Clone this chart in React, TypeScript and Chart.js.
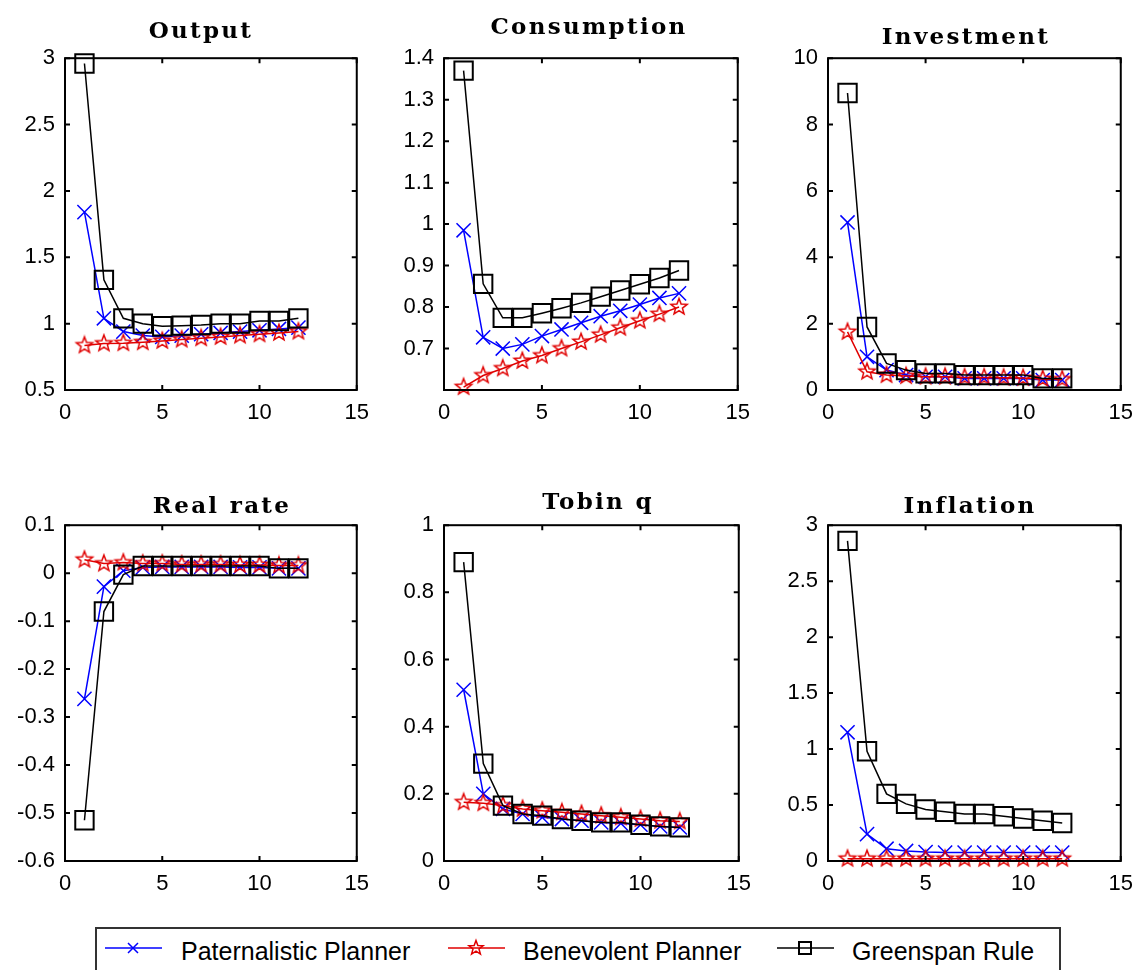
import React, { useEffect, useRef } from "react";
import { Chart, registerables } from "chart.js";

Chart.register(...registerables);

// ---------- data ----------
const periods = [1, 2, 3, 4, 5, 6, 7, 8, 9, 10, 11, 12];
const xTicks = [0, 5, 10, 15];

const seriesNames = ["Paternalistic Planner", "Benevolent Planner", "Greenspan Rule"];

const outputPaternalistic = [1.84, 1.04, 0.94, 0.91, 0.9, 0.91, 0.92, 0.93, 0.94, 0.95, 0.96, 0.97];
const outputBenevolent = [0.836, 0.85, 0.853, 0.86, 0.87, 0.88, 0.89, 0.9, 0.91, 0.92, 0.93, 0.94];
const outputGreenspan = [2.96, 1.33, 1.04, 1.0, 0.98, 0.985, 0.99, 1.0, 1.0, 1.02, 1.02, 1.04];
const outputTicks = [0.5, 1, 1.5, 2, 2.5, 3];

const consPaternalistic = [0.985, 0.727, 0.7, 0.71, 0.73, 0.746, 0.762, 0.778, 0.791, 0.806, 0.822, 0.833];
const consBenevolent = [0.607, 0.635, 0.652, 0.67, 0.683, 0.7, 0.716, 0.733, 0.75, 0.767, 0.783, 0.8];
const consGreenspan = [1.37, 0.856, 0.774, 0.774, 0.785, 0.797, 0.81, 0.825, 0.84, 0.855, 0.87, 0.888];
const consTicks = [0.7, 0.8, 0.9, 1, 1.1, 1.2, 1.3, 1.4];

const invPaternalistic = [5.05, 1.0, 0.6, 0.45, 0.4, 0.4, 0.35, 0.35, 0.35, 0.35, 0.3, 0.3];
const invBenevolent = [1.75, 0.55, 0.45, 0.42, 0.4, 0.4, 0.38, 0.38, 0.37, 0.36, 0.33, 0.32];
const invGreenspan = [8.95, 1.9, 0.8, 0.6, 0.5, 0.5, 0.45, 0.45, 0.45, 0.45, 0.35, 0.35];
const invTicks = [0, 2, 4, 6, 8, 10];

const ratePaternalistic = [-0.262, -0.028, 0.005, 0.012, 0.013, 0.013, 0.013, 0.013, 0.012, 0.012, 0.01, 0.01];
const rateBenevolent = [0.028, 0.02, 0.022, 0.02, 0.02, 0.018, 0.018, 0.018, 0.017, 0.017, 0.016, 0.016];
const rateGreenspan = [-0.515, -0.08, -0.003, 0.015, 0.015, 0.015, 0.015, 0.015, 0.015, 0.015, 0.01, 0.01];
const rateTicks = [-0.6, -0.5, -0.4, -0.3, -0.2, -0.1, 0, 0.1];

const qPaternalistic = [0.51, 0.2, 0.155, 0.14, 0.13, 0.125, 0.12, 0.115, 0.112, 0.108, 0.103, 0.1];
const qBenevolent = [0.175, 0.172, 0.165, 0.155, 0.15, 0.145, 0.14, 0.135, 0.13, 0.125, 0.12, 0.118];
const qGreenspan = [0.89, 0.29, 0.165, 0.14, 0.135, 0.125, 0.12, 0.115, 0.115, 0.108, 0.103, 0.1];
const qTicks = [0, 0.2, 0.4, 0.6, 0.8, 1];

const inflPaternalistic = [1.15, 0.24, 0.11, 0.09, 0.08, 0.075, 0.075, 0.075, 0.075, 0.075, 0.075, 0.075];
const inflBenevolent = [0.02, 0.02, 0.02, 0.02, 0.02, 0.02, 0.02, 0.02, 0.02, 0.02, 0.02, 0.02];
const inflGreenspan = [2.86, 0.98, 0.6, 0.51, 0.46, 0.44, 0.42, 0.42, 0.4, 0.38, 0.36, 0.34];
const inflTicks = [0, 0.5, 1, 1.5, 2, 2.5, 3];

const panelTitles = ["Output", "Consumption", "Investment", "Real rate", "Tobin q", "Inflation"];

// ---------- layout / style ----------
const BLUE = "#0000ff";
const RED = "#e00000";
const BLACK = "#000000";

type Panel = {
  title: string;
  pat: number[];
  ben: number[];
  grn: number[];
  yMin: number;
  yMax: number;
  yTicks: number[];
  rect: { l: number; t: number; r: number; b: number };
  titleX: number;
  titleBase: number;
};

const panels: Panel[] = [
  { title: panelTitles[0], pat: outputPaternalistic, ben: outputBenevolent, grn: outputGreenspan, yMin: 0.5, yMax: 3, yTicks: outputTicks, rect: { l: 65, t: 55, r: 359, b: 390 }, titleX: 201, titleBase: 37 },
  { title: panelTitles[1], pat: consPaternalistic, ben: consBenevolent, grn: consGreenspan, yMin: 0.6, yMax: 1.4, yTicks: consTicks, rect: { l: 444, t: 55, r: 740, b: 390 }, titleX: 589, titleBase: 33 },
  { title: panelTitles[2], pat: invPaternalistic, ben: invBenevolent, grn: invGreenspan, yMin: 0, yMax: 10, yTicks: invTicks, rect: { l: 828, t: 55, r: 1123, b: 390 }, titleX: 966, titleBase: 43 },
  { title: panelTitles[3], pat: ratePaternalistic, ben: rateBenevolent, grn: rateGreenspan, yMin: -0.6, yMax: 0.1, yTicks: rateTicks, rect: { l: 65, t: 522, r: 359, b: 861 }, titleX: 222, titleBase: 512 },
  { title: panelTitles[4], pat: qPaternalistic, ben: qBenevolent, grn: qGreenspan, yMin: 0, yMax: 1, yTicks: qTicks, rect: { l: 444, t: 522, r: 741, b: 861 }, titleX: 598, titleBase: 508 },
  { title: panelTitles[5], pat: inflPaternalistic, ben: inflBenevolent, grn: inflGreenspan, yMin: 0, yMax: 3, yTicks: inflTicks, rect: { l: 828, t: 522, r: 1123, b: 861 }, titleX: 970, titleBase: 512 },
];

const PAD_L = 70;
const PAD_T = 20;
const PAD_R = 20;
const PAD_B = 50;

const tickFont = { family: "'Liberation Sans', Arial, sans-serif", size: 22 };

function makeStar(color: string, R: number, lw: number): HTMLCanvasElement {
  const size = Math.ceil(2 * R + lw * 2 + 2);
  const c = document.createElement("canvas");
  c.width = size;
  c.height = size;
  const g = c.getContext("2d")!;
  const cx = size / 2;
  const cy = size / 2;
  const r = R * 0.42;
  g.beginPath();
  for (let i = 0; i < 10; i++) {
    const rad = i % 2 === 0 ? R : r;
    const ang = -Math.PI / 2 + (i * Math.PI) / 5;
    const x = cx + rad * Math.cos(ang);
    const y = cy + rad * Math.sin(ang);
    if (i === 0) g.moveTo(x, y);
    else g.lineTo(x, y);
  }
  g.closePath();
  g.strokeStyle = color;
  g.lineWidth = lw;
  g.stroke();
  return c;
}

const boxPlugin = {
  id: "matlabBox",
  afterDraw(chart: any) {
    const { ctx, chartArea: a, scales } = chart;
    ctx.save();
    ctx.strokeStyle = "#000";
    ctx.lineWidth = 2;
    ctx.strokeRect(a.left, a.top, a.right - a.left, a.bottom - a.top);
    const tl = 5;
    ctx.beginPath();
    for (const t of scales.x.ticks) {
      const px = scales.x.getPixelForValue(t.value);
      ctx.moveTo(px, a.bottom);
      ctx.lineTo(px, a.bottom - tl);
      ctx.moveTo(px, a.top);
      ctx.lineTo(px, a.top + tl);
    }
    for (const t of scales.y.ticks) {
      const py = scales.y.getPixelForValue(t.value);
      ctx.moveTo(a.left, py);
      ctx.lineTo(a.left + tl, py);
      ctx.moveTo(a.right, py);
      ctx.lineTo(a.right - tl, py);
    }
    ctx.stroke();
    ctx.restore();
  },
};

function PanelChart({ p }: { p: Panel }) {
  const ref = useRef<HTMLCanvasElement>(null);
  const w = p.rect.r - p.rect.l + PAD_L + PAD_R;
  const h = p.rect.b - p.rect.t + PAD_T + PAD_B;
  useEffect(() => {
    const star = makeStar(RED, 8.5, 1.5);
    const toPts = (arr: number[]) => periods.map((x, i) => ({ x, y: arr[i] }));
    const chart = new Chart(ref.current!, {
      type: "line",
      data: {
        datasets: [
          {
            label: seriesNames[0],
            data: toPts(p.pat),
            borderColor: BLUE,
            borderWidth: 1.5,
            pointStyle: "crossRot",
            pointRadius: 10,
            pointBorderColor: BLUE,
            pointBorderWidth: 1.5,
            pointBackgroundColor: "rgba(0,0,0,0)",
            tension: 0,
            clip: false,
            order: 3,
          } as any,
          {
            label: seriesNames[1],
            data: toPts(p.ben),
            borderColor: RED,
            borderWidth: 1.5,
            pointStyle: star,
            pointRadius: 9,
            tension: 0,
            clip: false,
            order: 2,
          } as any,
          {
            label: seriesNames[2],
            data: toPts(p.grn),
            borderColor: BLACK,
            borderWidth: 1.5,
            pointStyle: "rect",
            pointRadius: 13,
            pointBorderColor: BLACK,
            pointBorderWidth: 2,
            pointBackgroundColor: "rgba(0,0,0,0)",
            tension: 0,
            clip: false,
            order: 1,
          } as any,
        ],
      },
      options: {
        responsive: false,
        animation: false,
        events: [],
        layout: { padding: { top: PAD_T, right: PAD_R, left: 0, bottom: 0 } },
        plugins: { legend: { display: false }, tooltip: { enabled: false }, title: { display: false } },
        scales: {
          x: {
            type: "linear",
            min: 0,
            max: 15,
            afterBuildTicks: (s: any) => {
              s.ticks = xTicks.map((v) => ({ value: v }));
            },
            afterFit: (s: any) => {
              s.height = PAD_B;
            },
            grid: { display: false, drawTicks: false },
            border: { display: false },
            ticks: { padding: 10, color: "#000", font: tickFont, maxRotation: 0, autoSkip: false, callback: (v: any) => String(v) },
          },
          y: {
            type: "linear",
            min: p.yMin,
            max: p.yMax,
            afterBuildTicks: (s: any) => {
              s.ticks = p.yTicks.map((v) => ({ value: v }));
            },
            afterFit: (s: any) => {
              s.width = PAD_L;
            },
            grid: { display: false, drawTicks: false },
            border: { display: false },
            ticks: { padding: 10, color: "#000", font: tickFont, autoSkip: false, callback: (v: any) => String(v) },
          },
        },
      } as any,
      plugins: [boxPlugin],
    });
    return () => chart.destroy();
  }, [p]);
  return (
    <>
      <canvas
        ref={ref}
        width={w}
        height={h}
        style={{ position: "absolute", left: p.rect.l - PAD_L, top: p.rect.t - PAD_T, width: w, height: h }}
      />
      <div
        style={{
          position: "absolute",
          left: p.titleX - 150,
          width: 300,
          top: p.titleBase - 19.5,
          textAlign: "center",
          fontFamily: "'DejaVu Serif', serif",
          fontWeight: "bold",
          fontSize: 23,
          lineHeight: 1,
          letterSpacing: "2.3px",
          color: "#000",
          whiteSpace: "nowrap",
        }}
      >
        {p.title}
      </div>
    </>
  );
}

function LegendMarker({ kind, color }: { kind: string; color: string }) {
  const cx = 28;
  const cy = 10;
  let marker: React.ReactNode = null;
  if (kind === "cross") {
    marker = (
      <path d={`M${cx - 5} ${cy - 5} L${cx + 5} ${cy + 5} M${cx - 5} ${cy + 5} L${cx + 5} ${cy - 5}`} stroke={color} strokeWidth={1.5} />
    );
  } else if (kind === "star") {
    const R = 7.5;
    const r = R * 0.42;
    const pts: string[] = [];
    for (let i = 0; i < 10; i++) {
      const rad = i % 2 === 0 ? R : r;
      const ang = -Math.PI / 2 + (i * Math.PI) / 5;
      pts.push(`${(cx + rad * Math.cos(ang)).toFixed(2)},${(cy + rad * Math.sin(ang)).toFixed(2)}`);
    }
    marker = <polygon points={pts.join(" ")} fill="none" stroke={color} strokeWidth={1.5} />;
  } else {
    marker = <rect x={cx - 6} y={cy - 6} width={12} height={12} fill="none" stroke={color} strokeWidth={2} />;
  }
  return (
    <svg width={57} height={20} style={{ display: "block" }}>
      <line x1={0} y1={cy} x2={57} y2={cy} stroke={color} strokeWidth={1.5} />
      {marker}
    </svg>
  );
}

function Legend() {
  const items = [
    { name: seriesNames[0], kind: "cross", color: BLUE, lineX: 105, textX: 181 },
    { name: seriesNames[1], kind: "star", color: RED, lineX: 448, textX: 523 },
    { name: seriesNames[2], kind: "square", color: BLACK, lineX: 777, textX: 852 },
  ];
  return (
    <>
      <div
        style={{
          position: "absolute",
          left: 95,
          top: 927,
          width: 966,
          height: 80,
          border: "2px solid #333",
          boxSizing: "border-box",
          background: "#fff",
        }}
      />
      {items.map((it) => (
        <React.Fragment key={it.name}>
          <div style={{ position: "absolute", left: it.lineX, top: 938 }}>
            <LegendMarker kind={it.kind} color={it.color} />
          </div>
          <div
            style={{
              position: "absolute",
              left: it.textX,
              top: 939,
              fontFamily: "'Liberation Sans', Arial, sans-serif",
              fontSize: 25,
              lineHeight: 1,
              color: "#000",
              whiteSpace: "nowrap",
            }}
          >
            {it.name}
          </div>
        </React.Fragment>
      ))}
    </>
  );
}

export default function App() {
  return (
    <div
      style={{
        position: "absolute",
        left: 0,
        top: 0,
        width: 1137,
        height: 970,
        overflow: "hidden",
        background: "#fff",
      }}
    >
      {panels.map((p) => (
        <PanelChart key={p.title} p={p} />
      ))}
      <Legend />
    </div>
  );
}
